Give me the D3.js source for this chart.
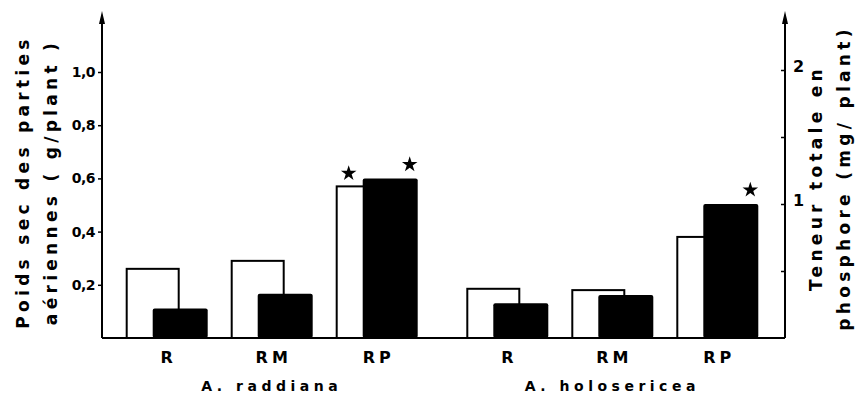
<!DOCTYPE html>
<html>
<head>
<meta charset="utf-8">
<script src="https://cdn.jsdelivr.net/npm/d3@7"></script>
<style>
  body { margin: 0; background: #fff; }
  svg { display: block; }
  text { font-family: "DejaVu Sans", "Liberation Sans", sans-serif; font-weight: bold; fill: #000; }
</style>
</head>
<body>
<div class="chart"></div>
<script>
// data
const species = ["A. raddiana", "A. holosericea"];
const treatments = ["R", "RM", "RP"];
// white bars: dry weight (g/plant), left axis
const dryWeight = [[0.26, 0.29, 0.57], [0.185, 0.18, 0.38]];
// black bars: total phosphorus (mg/plant), right axis
const phosphorus = [[0.22, 0.33, 1.19], [0.26, 0.32, 1.0]];
// stars: [species index, treatment index, series]
const stars = [[0, 2, "dry"], [0, 2, "p"], [1, 2, "p"]];
const leftTicks = [0.2, 0.4, 0.6, 0.8, 1.0];
const rightTicks = [0.5, 1, 1.5, 2];

const width = 856, height = 394;
const base = 338, axL = 102, axR = 785;

const svg = d3.select(".chart").append("svg")
    .attr("width", width)
    .attr("height", height);

const yLeft = d3.scaleLinear().domain([0, 1]).range([base, 72]);
const yRight = d3.scaleLinear().domain([0, 2]).range([base, 70]);

const outer = d3.scaleBand().domain(species).range([110.7, 791.9]);
const inner = d3.scaleBand().domain(treatments).range([16, 331]);
const whiteW = 52, blackW = 55, blackOff = 26;

const rows = [];
species.forEach((s, i) => treatments.forEach((t, j) => {
    rows.push({s: s, t: t, i: i, j: j, x: outer(s) + inner(t), dry: dryWeight[i][j], p: phosphorus[i][j]});
}));

// white bars
svg.append("g")
  .selectAll("rect")
  .data(rows)
  .join("rect")
    .attr("x", d => d.x)
    .attr("y", d => yLeft(d.dry))
    .attr("width", whiteW)
    .attr("height", d => base - yLeft(d.dry))
    .attr("fill", "#fff")
    .attr("stroke", "#000")
    .attr("stroke-width", 2);

// black bars
svg.append("g")
  .selectAll("rect")
  .data(rows)
  .join("rect")
    .attr("x", d => d.x + blackOff)
    .attr("y", d => yRight(d.p))
    .attr("width", blackW)
    .attr("height", d => base - yRight(d.p))
    .attr("rx", 2)
    .attr("fill", "#000");

// stars
svg.append("g")
  .selectAll("path")
  .data(stars)
  .join("path")
    .attr("d", d3.symbol(d3.symbolStar).size(75))
    .attr("transform", d => {
        const r = rows.find(o => o.i === d[0] && o.j === d[1]);
        const x = d[2] === "dry" ? r.x + 12 : r.x + blackOff + blackW - 8;
        const y = d[2] === "dry" ? yLeft(r.dry) - 13 : yRight(r.p) - 14;
        return "translate(" + x + "," + y + ")";
    })
    .attr("fill", "#000");

// baseline
svg.append("line")
    .attr("x1", axL).attr("x2", axR)
    .attr("y1", base).attr("y2", base)
    .attr("stroke", "#000").attr("stroke-width", 2);

// axes with arrows
[axL, axR].forEach(x => {
    svg.append("line")
        .attr("x1", x).attr("x2", x)
        .attr("y1", base).attr("y2", 20)
        .attr("stroke", "#000").attr("stroke-width", 2);
    svg.append("path")
        .attr("d", "M" + (x - 3) + ",24L" + x + ",11L" + (x + 3) + ",24Z")
        .attr("fill", "#000");
});

const leftAxis = d3.axisLeft(yLeft)
    .tickValues(leftTicks)
    .tickSize(4)
    .tickPadding(3)
    .tickFormat(d => d3.format(".1f")(d).replace(".", ","));
svg.append("g")
    .attr("transform", "translate(" + axL + ",0)")
    .call(leftAxis)
    .call(g => g.select(".domain").remove())
    .call(g => g.selectAll(".tick line").attr("stroke-width", 1.5))
    .call(g => g.selectAll("text").attr("font-size", 14).attr("font-family", "DejaVu Sans").attr("font-weight", "bold").attr("letter-spacing", -0.5));

const rightAxis = d3.axisRight(yRight)
    .tickValues(rightTicks)
    .tickSizeInner(-4)
    .tickSizeOuter(0)
    .tickPadding(8)
    .tickFormat(d => Number.isInteger(d) ? d : "");
svg.append("g")
    .attr("transform", "translate(" + axR + ",0)")
    .call(rightAxis)
    .call(g => g.select(".domain").remove())
    .call(g => g.selectAll(".tick line").attr("stroke-width", 1.5))
    .call(g => g.selectAll("text").attr("font-size", 16).attr("font-family", "DejaVu Sans").attr("font-weight", "bold").attr("dy", "0.1em"));

// category labels
svg.append("g")
  .selectAll("text")
  .data(rows)
  .join("text")
    .attr("x", d => d.x + 42)
    .attr("y", 363)
    .attr("text-anchor", "middle")
    .attr("font-size", 16)
    .attr("letter-spacing", 4)
    .text(d => d.t);

// species labels
svg.append("g")
  .selectAll("text")
  .data(species)
  .join("text")
    .attr("x", d => outer(d) + 16 + 145)
    .attr("y", 391)
    .attr("text-anchor", "middle")
    .attr("font-size", 14)
    .attr("letter-spacing", 4.5)
    .text(d => d);

// axis titles
function vtitle(x, y, lines) {
    const t = svg.append("text")
        .attr("transform", "translate(" + x + "," + y + ") rotate(-90)")
        .attr("text-anchor", "middle")
        .attr("font-size", 17)
        .attr("letter-spacing", 4.3);
    lines.forEach((l, k) => {
        t.append("tspan").attr("x", 0).attr("dy", k === 0 ? 0 : 28).text(l);
    });
}
vtitle(29, 182, ["Poids sec des parties", "aériennes ( g/plant )"]);
vtitle(822, 178, ["Teneur  totale  en", "phosphore  (mg/ plant)"]);
</script>
</body>
</html>
